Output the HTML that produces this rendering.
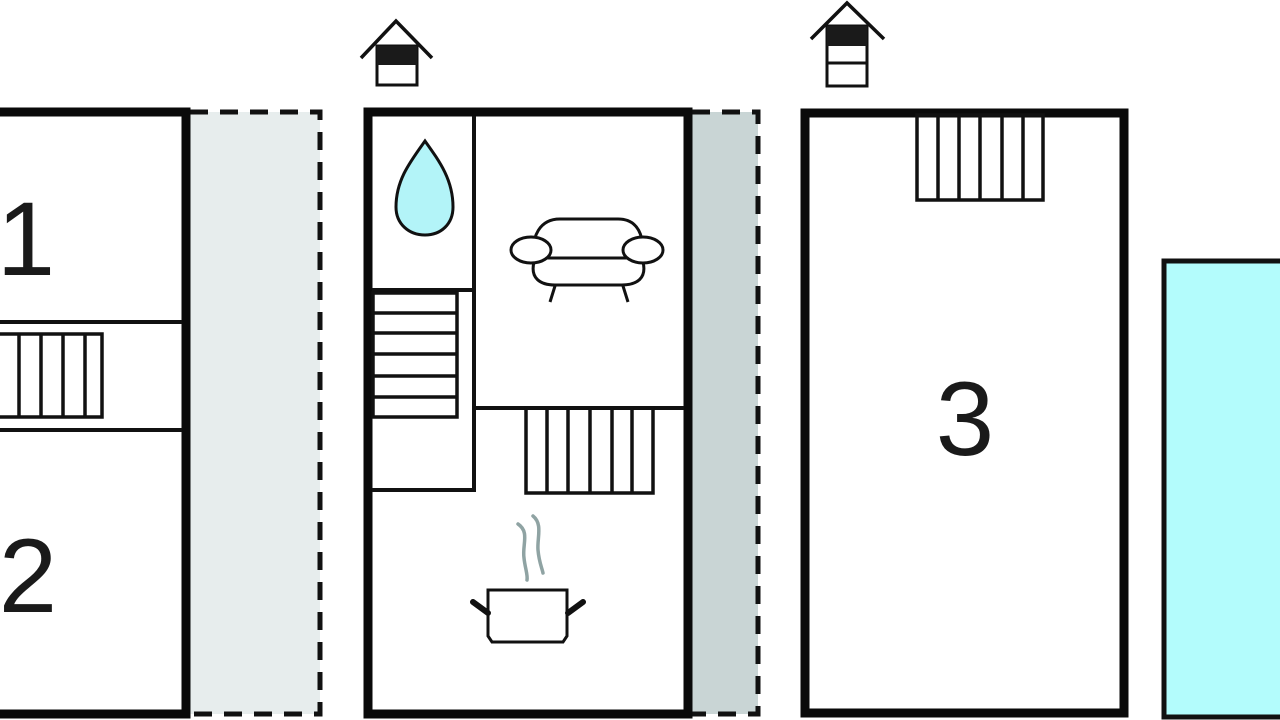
<!DOCTYPE html>
<html><head><meta charset="utf-8"><style>html,body{margin:0;padding:0;background:#fff;}svg{display:block}</style></head>
<body>
<svg width="1280" height="720" viewBox="0 0 1280 720" xmlns="http://www.w3.org/2000/svg" font-family="Liberation Sans, sans-serif">
<rect width="1280" height="720" fill="#fff"/>
<!-- Left plan -->
<rect x="190" y="112" width="130" height="602" fill="#e7eded"/>
<path d="M190 112 H320 V714 H190" fill="none" stroke="#111" stroke-width="5" stroke-dasharray="18 12"/>
<rect x="-10" y="112" width="196" height="602" fill="none" stroke="#0a0a0a" stroke-width="9"/>
<line x1="0" y1="322" x2="182" y2="322" stroke="#111" stroke-width="4"/>
<line x1="0" y1="430" x2="182" y2="430" stroke="#111" stroke-width="4"/>
<rect x="-5" y="334" width="107" height="83" fill="none" stroke="#111" stroke-width="3.5"/>
<g stroke="#111" stroke-width="3.5"><line x1="19" y1="334" x2="19" y2="417"/><line x1="41" y1="334" x2="41" y2="417"/><line x1="63" y1="334" x2="63" y2="417"/><line x1="85" y1="334" x2="85" y2="417"/></g>
<text x="26" y="275" font-size="105" text-anchor="middle" fill="#1a1a1a">1</text>
<text x="28" y="612" font-size="105" text-anchor="middle" fill="#1a1a1a">2</text>

<!-- Middle plan -->
<rect x="692" y="112" width="66" height="602" fill="#c9d5d5"/>
<path d="M692 112 H758 V714 H692" fill="none" stroke="#111" stroke-width="5" stroke-dasharray="18 12"/>
<rect x="368" y="112" width="320" height="602" fill="none" stroke="#0a0a0a" stroke-width="9"/>
<line x1="474" y1="116" x2="474" y2="490" stroke="#111" stroke-width="4"/>
<line x1="372" y1="290" x2="474" y2="290" stroke="#111" stroke-width="4"/>
<line x1="372" y1="490" x2="476" y2="490" stroke="#111" stroke-width="4"/>
<line x1="474" y1="408" x2="684" y2="408" stroke="#111" stroke-width="4"/>
<rect x="373" y="293" width="84" height="124" fill="none" stroke="#111" stroke-width="3.5"/>
<g stroke="#111" stroke-width="3.5"><line x1="373" y1="313" x2="457" y2="313"/><line x1="373" y1="333" x2="457" y2="333"/><line x1="373" y1="354" x2="457" y2="354"/><line x1="373" y1="376" x2="457" y2="376"/><line x1="373" y1="397" x2="457" y2="397"/></g>
<rect x="526" y="408" width="127" height="85" fill="none" stroke="#111" stroke-width="3.5"/>
<g stroke="#111" stroke-width="3.5"><line x1="547" y1="408" x2="547" y2="493"/><line x1="568" y1="408" x2="568" y2="493"/><line x1="590" y1="408" x2="590" y2="493"/><line x1="612" y1="408" x2="612" y2="493"/><line x1="632" y1="408" x2="632" y2="493"/></g>
<!-- drop -->
<path d="M425 141 C410 162 396 180 396 207 C396 224 409 235 425 235 C441 235 453 224 453 207 C453 180 440 162 425 141 Z" fill="#b3f4f8" stroke="#111" stroke-width="3"/>
<!-- sofa -->
<g fill="#fff" stroke="#111" stroke-width="3">
<path d="M534 258 C531 236 540 219 560 219 H618 C638 219 645 236 642 258"/>
<path d="M534 262 C530 278 540 285 555 285 H622 C637 285 647 278 643 262"/>
<line x1="546" y1="258" x2="631" y2="258"/>
<ellipse cx="531" cy="250" rx="20" ry="13"/>
<ellipse cx="643" cy="250" rx="20" ry="13"/>
<line x1="555" y1="286" x2="550" y2="302"/>
<line x1="623" y1="286" x2="628" y2="302"/>
</g>
<!-- pot -->
<g stroke="#8fa3a3" stroke-width="3.5" fill="none" stroke-linecap="round">
<path d="M518 524 C530 532 522 545 524 558 C525 568 528 575 527 580"/>
<path d="M533 516 C543 524 537 538 538 550 C539 562 542 568 543 573"/>
</g>
<path d="M488 590 H567 V636 L563 642 H492 L488 636 Z" fill="#fff" stroke="#111" stroke-width="3"/>
<line x1="473" y1="602" x2="488" y2="613" stroke="#111" stroke-width="6" stroke-linecap="round"/>
<line x1="583" y1="602" x2="568" y2="613" stroke="#111" stroke-width="6" stroke-linecap="round"/>
<!-- icon 1 -->
<rect x="377" y="46" width="40" height="39" fill="#fff" stroke="#111" stroke-width="3"/>
<rect x="377" y="46" width="40" height="19" fill="#1a1a1a"/>
<polyline points="361,58 396,21 432,58" fill="none" stroke="#111" stroke-width="3.5"/>
<!-- icon 2 -->
<rect x="827" y="26" width="40" height="60" fill="#fff" stroke="#111" stroke-width="3"/>
<rect x="827" y="26" width="40" height="20" fill="#1a1a1a"/>
<line x1="827" y1="63" x2="867" y2="63" stroke="#111" stroke-width="3"/>
<polyline points="811,39 847,3 884,39" fill="none" stroke="#111" stroke-width="3.5"/>

<!-- Right plan -->
<rect x="805" y="113" width="319" height="600" fill="none" stroke="#0a0a0a" stroke-width="9"/>
<rect x="917" y="115" width="126" height="85" fill="none" stroke="#111" stroke-width="3.5"/>
<g stroke="#111" stroke-width="3.5"><line x1="938" y1="116" x2="938" y2="200"/><line x1="959" y1="116" x2="959" y2="200"/><line x1="980" y1="116" x2="980" y2="200"/><line x1="1002" y1="116" x2="1002" y2="200"/><line x1="1023" y1="116" x2="1023" y2="200"/></g>
<text x="965" y="455" font-size="105" text-anchor="middle" fill="#1a1a1a">3</text>
<!-- Pool -->
<rect x="1164" y="261" width="130" height="456" fill="#b3fcfc" stroke="#111" stroke-width="5"/>
</svg>
</body></html>
